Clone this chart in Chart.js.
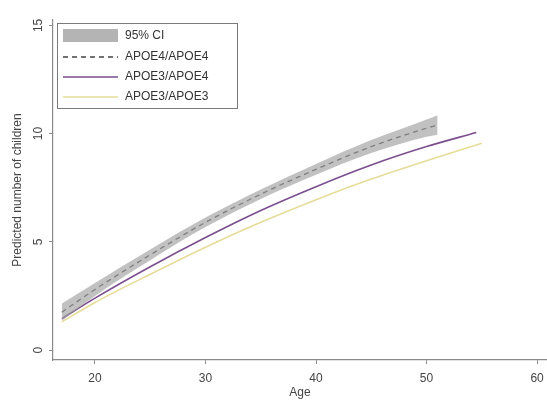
<!DOCTYPE html>
<html>
<head>
<meta charset="utf-8">
<script src="https://cdn.jsdelivr.net/npm/chart.js@4"></script>
<style>
  html, body { margin: 0; padding: 0; background: #fff; }
  #wrap { width: 547px; height: 401px; position: relative; }
</style>
</head>
<body>
<div id="wrap"><canvas id="chart"></canvas></div>
<script>
// ages and predicted values
const agesE4 = [17, 20, 25, 30, 35, 40, 45, 50, 51];
const apoe44 = [1.75, 2.8, 4.4, 5.9, 7.2, 8.35, 9.4, 10.25, 10.4];
const ciLow = [1.35, 2.5, 4.15, 5.68, 6.98, 8.1, 9.1, 9.85, 9.95];
const ciHigh = [2.15, 3.1, 4.65, 6.12, 7.42, 8.6, 9.7, 10.65, 10.85];

const agesE34 = [17, 20, 25, 30, 35, 40, 45, 50, 54.5];
const apoe34 = [1.45, 2.4, 3.85, 5.2, 6.45, 7.55, 8.55, 9.4, 10.05];

const agesE33 = [17, 20, 25, 30, 35, 40, 45, 50, 55];
const apoe33 = [1.3, 2.2, 3.5, 4.75, 5.9, 6.95, 7.9, 8.75, 9.55];

const xTicks = [20, 30, 40, 50, 60];
const yTicks = [0, 5, 10, 15];

const legendItems = ['95% CI', 'APOE4/APOE4', 'APOE3/APOE4', 'APOE3/APOE3'];

const colBand = 'rgba(160,160,160,0.65)';
const colE44 = '#444444';
const colE34 = '#7b4f8e';
const colE33 = '#e6dc9a';
const axisCol = '#8a8a8a';
const textCol = '#444';
const fontFam = '"Liberation Sans", Arial, sans-serif';

const pts = (xs, ys) => xs.map((x, i) => ({ x: x, y: ys[i] }));

// rotated y tick labels and the legend box, Stata-style
const stataBits = {
    id: 'stataBits',
    afterDraw(chart) {
        const ctx = chart.ctx;
        const ys = chart.scales.y;
        ctx.save();
        ctx.fillStyle = textCol;
        ctx.font = '12px ' + fontFam;
        ctx.textAlign = 'center';
        ctx.textBaseline = 'middle';
        yTicks.forEach(v => {
            const py = ys.getPixelForValue(v);
            ctx.save();
            ctx.translate(39, py);
            ctx.rotate(-Math.PI / 2);
            ctx.fillText(String(v), 0, 0);
            ctx.restore();
        });

        // legend
        const bx = 57, by = 23, bw = 180, bh = 85;
        ctx.fillStyle = '#fff';
        ctx.fillRect(bx, by, bw, bh);
        ctx.strokeStyle = '#7a7a7a';
        ctx.lineWidth = 1;
        ctx.strokeRect(bx + 0.5, by + 0.5, bw, bh);

        const sx0 = 63, sx1 = 118, tx = 125;
        const rowY = [36, 57, 77, 97];
        ctx.fillStyle = '#b4b4b4';
        ctx.fillRect(sx0, 29, sx1 - sx0, 13);

        ctx.lineWidth = 1.5;
        ctx.strokeStyle = colE44;
        ctx.setLineDash([5, 4]);
        ctx.beginPath(); ctx.moveTo(sx0, rowY[1]); ctx.lineTo(sx1, rowY[1]); ctx.stroke();
        ctx.setLineDash([]);
        ctx.strokeStyle = colE34;
        ctx.beginPath(); ctx.moveTo(sx0, rowY[2]); ctx.lineTo(sx1, rowY[2]); ctx.stroke();
        ctx.strokeStyle = colE33;
        ctx.beginPath(); ctx.moveTo(sx0, rowY[3]); ctx.lineTo(sx1, rowY[3]); ctx.stroke();

        ctx.fillStyle = '#333';
        ctx.textAlign = 'left';
        legendItems.forEach((t, i) => ctx.fillText(t, tx, rowY[i]));
        ctx.restore();
    }
};

new Chart(document.getElementById('chart'), {
    type: 'line',
    data: {
        datasets: [
            { label: 'ciLow', data: pts(agesE4, ciLow), borderWidth: 0, pointRadius: 0, fill: false, cubicInterpolationMode: 'monotone' },
            { label: '95% CI', data: pts(agesE4, ciHigh), borderWidth: 0, pointRadius: 0, fill: '-1', backgroundColor: colBand, cubicInterpolationMode: 'monotone' },
            { label: 'APOE4/APOE4', data: pts(agesE4, apoe44), borderColor: colE44, borderWidth: 1.3, borderDash: [5, 4], pointRadius: 0, fill: false, cubicInterpolationMode: 'monotone' },
            { label: 'APOE3/APOE4', data: pts(agesE34, apoe34), borderColor: colE34, borderWidth: 1.6, pointRadius: 0, fill: false, cubicInterpolationMode: 'monotone' },
            { label: 'APOE3/APOE3', data: pts(agesE33, apoe33), borderColor: colE33, borderWidth: 1.6, pointRadius: 0, fill: false, cubicInterpolationMode: 'monotone' }
        ]
    },
    options: {
        responsive: true,
        maintainAspectRatio: false,
        animation: false,
        layout: { padding: { top: 20, right: 0, left: 0, bottom: 0 } },
        plugins: { legend: { display: false }, tooltip: { enabled: false } },
        scales: {
            x: {
                type: 'linear',
                min: 16.2,
                max: 60.9,
                afterBuildTicks: s => { s.ticks = xTicks.map(v => ({ value: v })); },
                afterFit: s => { s.height = 41; s.paddingLeft = 0; s.paddingRight = 0; },
                grid: { drawOnChartArea: false, tickLength: 4, color: axisCol },
                border: { color: axisCol, width: 1.2 },
                ticks: { color: textCol, font: { size: 12, family: fontFam }, padding: 7, maxRotation: 0 },
                title: { display: true, text: 'Age', color: textCol, font: { size: 12, family: fontFam }, padding: { top: 0, bottom: 1 } }
            },
            y: {
                min: -0.46,
                max: 15.25,
                afterBuildTicks: s => { s.ticks = yTicks.map(v => ({ value: v })); },
                afterFit: s => { s.width = 53; s.paddingTop = 0; s.paddingBottom = 0; },
                grid: { drawOnChartArea: false, tickLength: 4, color: axisCol },
                border: { color: axisCol, width: 1.2 },
                ticks: { display: false },
                title: { display: true, text: 'Predicted number of children', color: textCol, font: { size: 12, family: fontFam }, padding: { top: 10, bottom: 0 } }
            }
        }
    },
    plugins: [stataBits]
});
</script>
</body>
</html>
